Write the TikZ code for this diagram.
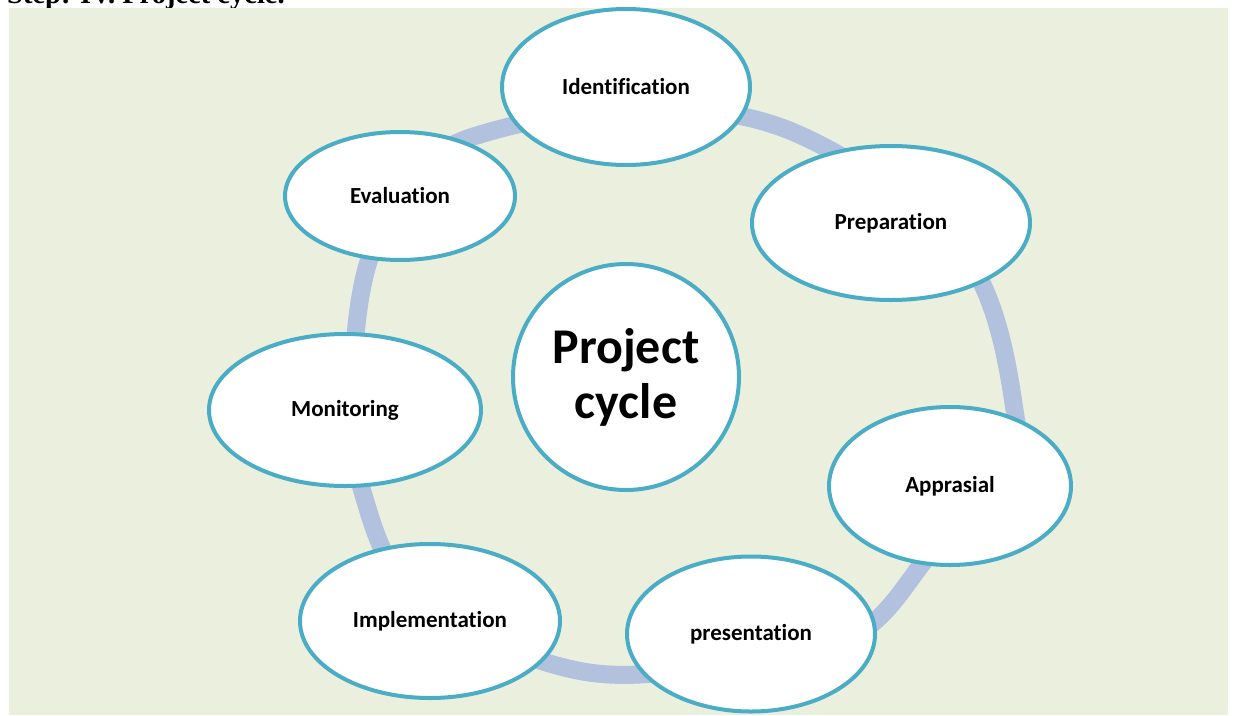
\documentclass[tikz,border=0pt]{standalone}
\usepackage{fontspec}
\setmainfont{Carlito}[Ligatures=NoCommon]
\newfontfamily\headfont{Liberation Serif}
\begin{document}
\begin{tikzpicture}[x=1pt,y=-1pt,
  stage/.style={ellipse, draw=stageline, line width=4pt, fill=white,
    font=\bfseries\fontsize{23}{27}\selectfont, inner sep=0pt},
  hub/.style={circle, draw=stageline, line width=4pt, fill=white,
    minimum size=226pt, inner sep=0pt, align=center,
    font=\bfseries\fontsize{50}{55}\selectfont}]
\usetikzlibrary{shapes.geometric}
\definecolor{panel}{RGB}{235,240,222}
\definecolor{stageline}{RGB}{75,172,198}
\definecolor{ringcol}{RGB}{178,193,222}
\useasboundingbox (0,0) rectangle (1234,715);
\clip (0,0) rectangle (1234,715);
% page heading, mostly above the visible area
\node[anchor=base west, inner sep=0pt, font=\headfont\bfseries\fontsize{28.5}{32}\selectfont] (head) at (7,3) {Step: IV. Project cycle.};
% panel
\fill[panel] (9,8) rectangle (1228,715);
% ring linking the stages
\draw[ringcol, line width=18pt] plot[smooth cycle, tension=0.6] coordinates {
  (485,133) (640,108) (800,135) (965,255) (1016,420) (1000,480) (935,548)
  (860,632) (740,662) (580,671) (420,600) (362,490) (353,380)
  (369,260) (420,172)};
% stages
\node[hub] (pc) at (626,377) {Project\\cycle};
\node[stage, minimum width=248pt, minimum height=156pt] (ident) at (626,87) {Identification};
\node[stage, minimum width=278pt, minimum height=154pt] (prep) at (891,223) {Preparation};
\node[stage, minimum width=242pt, minimum height=158pt] (appr) at (950,486) {Apprasial};
\node[stage, minimum width=248pt, minimum height=155pt] (pres) at (751,634) {presentation};
\node[stage, minimum width=260pt, minimum height=154pt] (impl) at (430,621) {Implementation};
\node[stage, minimum width=272pt, minimum height=152pt] (moni) at (345,410) {Monitoring};
\node[stage, minimum width=230pt, minimum height=128pt] (eval) at (400,196) {Evaluation};
\end{tikzpicture}
\end{document}
